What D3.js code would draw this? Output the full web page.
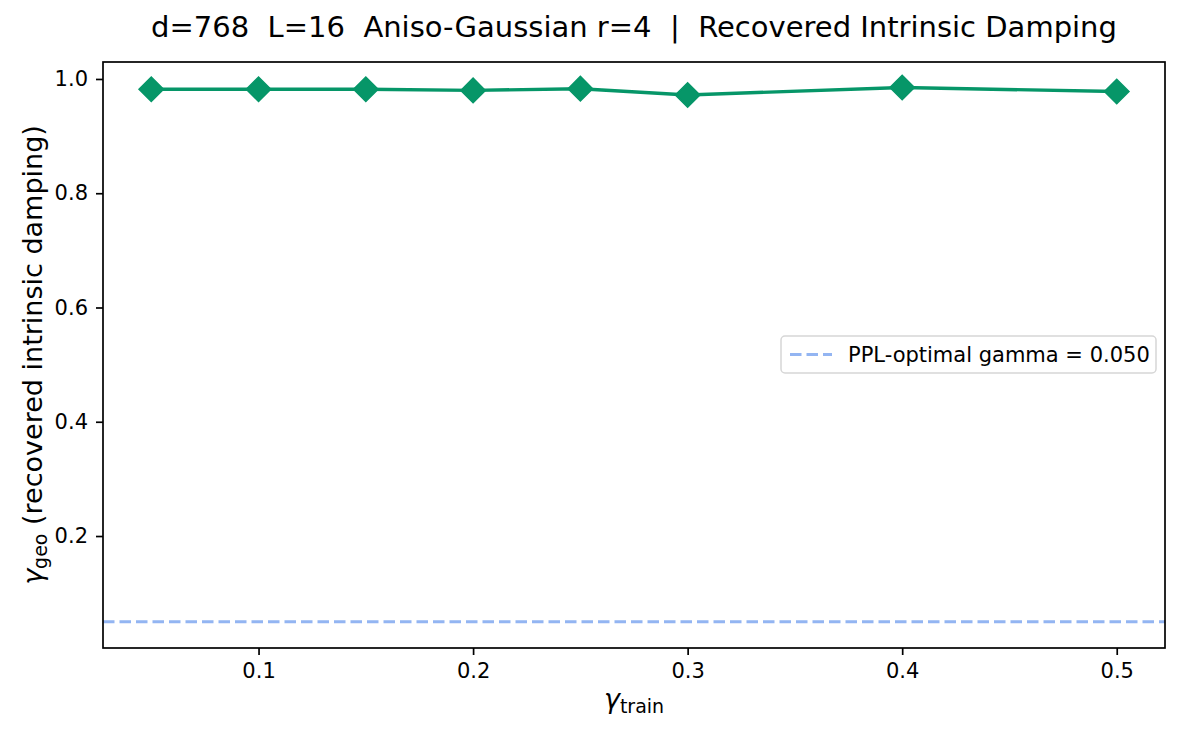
<!DOCTYPE html>
<html>
<head>
<meta charset="utf-8">
<script src="https://cdn.jsdelivr.net/npm/d3@7"></script>
<style>
  body { margin: 0; background: #fff; }
  svg { display: block; font-family: 'DejaVu Sans', sans-serif; }
</style>
</head>
<body>
<svg id="chart" width="1181" height="732"></svg>
<script>
const gammaTrain = [0.05, 0.1, 0.15, 0.2, 0.25, 0.3, 0.4, 0.5];
const gammaGeo = [0.982, 0.982, 0.982, 0.980, 0.983, 0.972, 0.985, 0.978];
const pplOptimal = 0.05;
const xTicks = [0.1, 0.2, 0.3, 0.4, 0.5];
const yTicks = [0.2, 0.4, 0.6, 0.8, 1.0];

const width = 1181;
const height = 732;
const margin = { top: 62, right: 16, bottom: 84, left: 103 };

const svg = d3.select('#chart');

const x = d3.scaleLinear()
  .domain([0.0275, 0.5225])
  .range([margin.left, width - margin.right]);

const y = d3.scaleLinear()
  .domain([0.004, 1.0297])
  .range([height - margin.bottom, margin.top]);

const green = '#069668';

// reference line
svg.append('line')
  .attr('x1', margin.left)
  .attr('x2', width - margin.right)
  .attr('y1', y(pplOptimal))
  .attr('y2', y(pplOptimal))
  .attr('stroke', '#93b5f2')
  .attr('stroke-width', 3)
  .attr('stroke-dasharray', '11.5 5');

// series line
const line = d3.line()
  .x((d, i) => x(gammaTrain[i]))
  .y((d) => y(d));

svg.append('path')
  .datum(gammaGeo)
  .attr('d', line)
  .attr('fill', 'none')
  .attr('stroke', green)
  .attr('stroke-width', 3.4);

const diamond = d3.symbol().type(d3.symbolSquare).size(300);

svg.append('g')
  .selectAll('path')
  .data(gammaGeo)
  .join('path')
  .attr('d', diamond)
  .attr('transform', (d, i) => `translate(${x(gammaTrain[i])},${y(d)}) rotate(45)`)
  .attr('fill', green)
  .attr('stroke', green)
  .attr('stroke-width', 1.5);

// axes
const xAxis = d3.axisBottom(x)
  .tickValues(xTicks)
  .tickFormat(d3.format('.1f'))
  .tickSize(7)
  .tickPadding(8);

const yAxis = d3.axisLeft(y)
  .tickValues(yTicks)
  .tickFormat(d3.format('.1f'))
  .tickSize(7)
  .tickPadding(8);

const gx = svg.append('g')
  .attr('transform', `translate(0,${height - margin.bottom})`)
  .call(xAxis);

const gy = svg.append('g')
  .attr('transform', `translate(${margin.left},0)`)
  .call(yAxis);

[gx, gy].forEach((g) => {
  g.select('.domain').remove();
  g.selectAll('line').attr('stroke', '#000').attr('stroke-width', 1.7);
  g.selectAll('text')
    .attr('fill', '#000')
    .style('font-size', '21px')
    .style('font-family', "'DejaVu Sans', sans-serif");
});

// frame
svg.append('rect')
  .attr('x', margin.left)
  .attr('y', margin.top)
  .attr('width', width - margin.left - margin.right)
  .attr('height', height - margin.top - margin.bottom)
  .attr('fill', 'none')
  .attr('stroke', '#000')
  .attr('stroke-width', 1.7);

// title
svg.append('text')
  .attr('x', (margin.left + width - margin.right) / 2)
  .attr('y', 37)
  .attr('text-anchor', 'middle')
  .style('font-size', '29px')
  .style('white-space', 'pre')
  .attr('xml:space', 'preserve')
  .text('d=768  L=16  Aniso-Gaussian r=4  |  Recovered Intrinsic Damping');

// x label
const xl = svg.append('text')
  .attr('x', (margin.left + width - margin.right) / 2)
  .attr('y', 708)
  .attr('text-anchor', 'middle')
  .style('font-size', '27px');
xl.append('tspan').style('font-style', 'italic').text('γ');
xl.append('tspan').attr('dy', 5).style('font-size', '19px').text('train');

// y label
const yl = svg.append('text')
  .attr('transform', `translate(42,${(margin.top + height - margin.bottom) / 2}) rotate(-90)`)
  .attr('text-anchor', 'middle')
  .style('font-size', '27px');
yl.append('tspan').style('font-style', 'italic').text('γ');
yl.append('tspan').attr('dy', 5).style('font-size', '19px').text('geo');
yl.append('tspan').attr('dy', -5).style('white-space', 'pre').text(' (recovered intrinsic damping)');

// legend
const legend = svg.append('g').attr('transform', 'translate(781,336)');
legend.append('rect')
  .attr('width', 375)
  .attr('height', 37)
  .attr('rx', 4)
  .attr('fill', '#fff')
  .attr('fill-opacity', 0.8)
  .attr('stroke', '#d6d6d6')
  .attr('stroke-width', 1.5);
legend.append('line')
  .attr('x1', 9)
  .attr('x2', 51)
  .attr('y1', 18.5)
  .attr('y2', 18.5)
  .attr('stroke', '#93b5f2')
  .attr('stroke-width', 3)
  .attr('stroke-dasharray', '11.5 5');
legend.append('text')
  .attr('x', 67)
  .attr('y', 26)
  .style('font-size', '21px')
  .text('PPL-optimal gamma = 0.050');
</script>
</body>
</html>
